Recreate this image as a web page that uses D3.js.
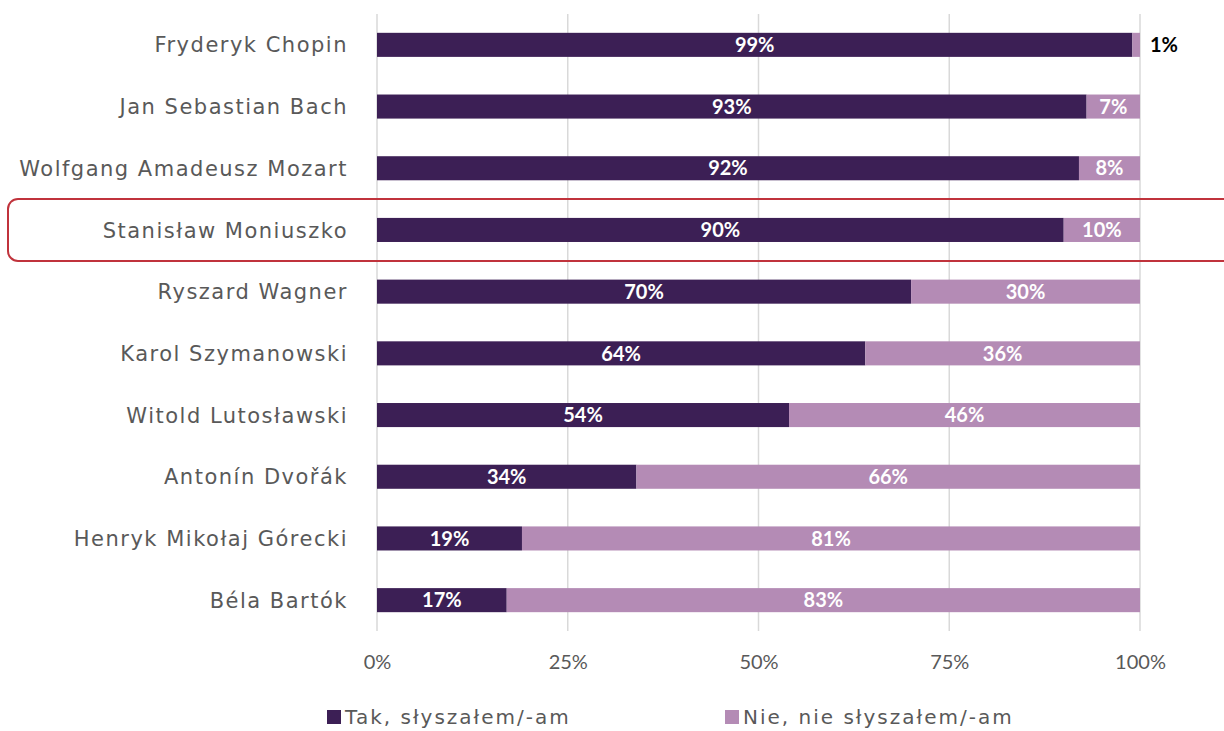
<!DOCTYPE html>
<html><head><meta charset="utf-8">
<script src="https://cdn.jsdelivr.net/npm/d3@7"></script>
<style>body{margin:0;background:#fff}svg{display:block}</style>
</head><body>
<script>
const categories = ["Fryderyk Chopin","Jan Sebastian Bach","Wolfgang Amadeusz Mozart","Stanisław Moniuszko","Ryszard Wagner","Karol Szymanowski","Witold Lutosławski","Antonín Dvořák","Henryk Mikołaj Górecki","Béla Bartók"];
const yesValues = [99,93,92,90,70,64,54,34,19,17];
const noValues = [1,7,8,10,30,36,46,66,81,83];
const tickValues = [0,25,50,75,100];
const seriesNames = ["Tak, słyszałem/-am","Nie, nie słyszałem/-am"];
const highlighted = "Stanisław Moniuszko";

const W=1224,H=731;
const font="Lato, 'Open Sans', sans-serif";
const wideFont="'DejaVu Sans', sans-serif";
const dark="#3c1f55", light="#b48bb5";
const svg=d3.select("body").append("svg").attr("width",W).attr("height",H);
const x=d3.scaleLinear().domain([0,100]).range([377,1140]);
const y=d3.scaleBand().domain(categories).range([14,631]).paddingInner(0.61).paddingOuter(0.305);

svg.append("g").selectAll("line").data(tickValues).join("line")
 .attr("x1",d=>x(d)).attr("x2",d=>x(d)).attr("y1",14).attr("y2",631)
 .attr("stroke","#d9d9d9").attr("stroke-width",1.5);

const hb=y(highlighted)+y.bandwidth()/2;
svg.append("rect").attr("x",8).attr("y",hb-31).attr("width",1240).attr("height",62)
 .attr("rx",10).attr("fill","none").attr("stroke","#c0333c").attr("stroke-width",2);

const rows=categories.map((c,i)=>({c,yes:yesValues[i],no:noValues[i]}));
const g=svg.append("g");
g.selectAll("rect.yes").data(rows).join("rect").attr("class","yes")
 .attr("x",x(0)).attr("y",d=>y(d.c)).attr("width",d=>x(d.yes)-x(0)).attr("height",y.bandwidth()).attr("fill",dark);
g.selectAll("rect.no").data(rows).join("rect").attr("class","no")
 .attr("x",d=>x(d.yes)).attr("y",d=>y(d.c)).attr("width",d=>x(d.yes+d.no)-x(d.yes)).attr("height",y.bandwidth()).attr("fill",light);

g.selectAll("text.yl").data(rows).join("text")
 .attr("x",d=>(x(0)+x(d.yes))/2).attr("y",d=>y(d.c)+y.bandwidth()/2).attr("dy","0.36em")
 .attr("text-anchor","middle").attr("fill","#fff").attr("font-weight","bold").attr("font-size",20).attr("font-family",font)
 .text(d=>d.yes+"%");
g.selectAll("text.nl").data(rows).join("text")
 .attr("x",d=>d.no<3? x(100)+10 : (x(d.yes)+x(100))/2)
 .attr("text-anchor",d=>d.no<3?"start":"middle")
 .attr("y",d=>y(d.c)+y.bandwidth()/2).attr("dy","0.36em")
 .attr("fill",d=>d.no<3?"#000":"#fff").attr("font-weight","bold").attr("font-size",20).attr("font-family",font)
 .text(d=>d.no+"%");

svg.selectAll("text.cat").data(categories).join("text")
 .attr("x",348).attr("y",d=>y(d)+y.bandwidth()/2).attr("dy","0.36em").attr("text-anchor","end")
 .attr("fill","#595959").attr("font-size",21).attr("letter-spacing",1.5).attr("font-family",wideFont).text(d=>d);

const ax=svg.append("g").attr("transform","translate(0,662)")
 .call(d3.axisBottom(x).tickValues(tickValues).tickFormat(d=>d+"%").tickSize(0));
ax.select(".domain").remove();
ax.selectAll("text").attr("fill","#595959").attr("font-size",20).attr("font-family",font)
 .attr("y",0).attr("dy","0.36em");

const leg=[{n:seriesNames[0],c:dark,x:327},{n:seriesNames[1],c:light,x:725}];
const lg=svg.selectAll("g.leg").data(leg).join("g").attr("transform",d=>`translate(${d.x},717)`);
lg.append("rect").attr("x",0).attr("y",-7).attr("width",14).attr("height",14).attr("fill",d=>d.c);
lg.append("text").attr("x",18).attr("dy","0.36em").attr("fill","#595959").attr("font-size",20).attr("letter-spacing",2).attr("font-family",wideFont).text(d=>d.n);
</script>
</body></html>
